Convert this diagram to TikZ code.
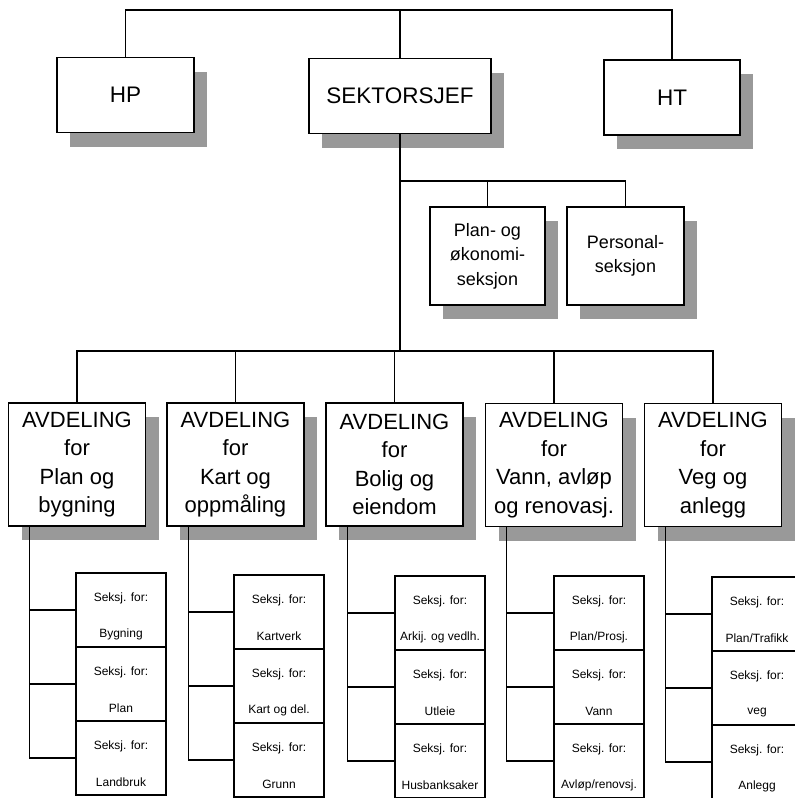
\documentclass[tikz,border=0pt]{standalone}
\usepackage{fontspec}
\setmainfont{Liberation Sans}
\usetikzlibrary{shadows,calc}
\begin{document}
\begin{tikzpicture}[x=1pt,y=-1pt,
  conn/.style={line width=1.3pt},
  sbox/.style={draw, line width=1.6pt, fill=white, inner sep=0pt, align=center,
    drop shadow={shadow xshift=13pt, shadow yshift=-14pt, fill=black!40, opacity=1}},
  topbox/.style={sbox, minimum height=75pt, font=\fontsize{22.5}{26}\selectfont},
  midbox/.style={sbox, minimum width=116pt, minimum height=98pt, font=\fontsize{18}{24.5}\selectfont},
  dbox/.style={sbox, minimum width=137pt, minimum height=123pt, font=\fontsize{22}{28.5}\selectfont},
  secbox/.style={draw, line width=1.3pt, fill=white, minimum width=90pt, minimum height=74pt, inner sep=0pt},
  sectxt/.style={font=\fontsize{12}{14}\selectfont, inner sep=0pt}
]
\useasboundingbox (0,0) rectangle (795,798);
\fill[white] (0,0) rectangle (795,798);

% top level
\node[topbox, minimum width=137pt] (hp) at (125.5,95) {HP};
\node[topbox, minimum width=182pt] (sek) at (400,96) {SEKTORSJEF};
\node[topbox, minimum width=136pt] (ht) at (672,97.5) {HT};
\coordinate (tbar) at (400,10);
\draw[conn] (hp.north) |- (tbar) -| (ht.north);
\draw[conn] (sek.north) -- (sek.north |- tbar);

% staff sections
\node[midbox, minimum width=115pt] (pok) at (487.5,256) {Plan- og\\økonomi-\\seksjon};
\node[midbox, minimum width=117pt] (pers) at (625.5,256) {Personal-\\seksjon};
\coordinate (pbar) at (400,181);
\draw[conn] (sek.south |- pbar) -| (pers.north);
\draw[conn] (pok.north) -- (pok.north |- pbar);

% departments
\node[dbox] (d1) at (77,464.5) {AVDELING\\for\\Plan og\\bygning};
\node[dbox] (d2) at (235.5,464.5) {AVDELING\\for\\Kart og\\oppmåling};
\node[dbox] (d3) at (394.5,464.5) {AVDELING\\for\\Bolig og\\eiendom};
\node[dbox] (d4) at (554,465) {AVDELING\\for\\Vann, avløp\\og renovasj.};
\node[dbox] (d5) at (713,465) {AVDELING\\for\\Veg og\\anlegg};
\coordinate (dbar) at (400,351);
\draw[conn] (sek.south) -- (sek.south |- dbar);
\draw[conn] (d1.north) |- (dbar) -| (d5.north);
\draw[conn] (d2.north) -- (d2.north |- dbar);
\draw[conn] (d3.north) -- (d3.north |- dbar);
\draw[conn] (d4.north) -- (d4.north |- dbar);

% sections
\foreach \i/\cx/\tp/\a/\b/\c in {
  1/121/573/Bygning/Plan/Landbruk,
  2/279/575/Kartverk/Kart og del./Grunn,
  3/440/576/Arkij. og vedlh./Utleie/Husbanksaker,
  4/599/576/{Plan/Prosj.}/Vann/{Avløp/renovsj.},
  5/757/577/{Plan/Trafikk}/veg/Anlegg}{
  \node[secbox] (s\i-1) at (\cx,\tp+37) {};
  \node[secbox] (s\i-2) at (\cx,\tp+111) {};
  \node[secbox] (s\i-3) at (\cx,\tp+185) {};
  \node[sectxt] (t\i-1a) at ([yshift=-26pt]s\i-1.north) {Seksj. for:};
  \node[sectxt] (t\i-1b) at ([yshift=-62pt]s\i-1.north) {\a};
  \node[sectxt] (t\i-2a) at ([yshift=-26pt]s\i-2.north) {Seksj. for:};
  \node[sectxt] (t\i-2b) at ([yshift=-62pt]s\i-2.north) {\b};
  \node[sectxt] (t\i-3a) at ([yshift=-26pt]s\i-3.north) {Seksj. for:};
  \node[sectxt] (t\i-3b) at ([yshift=-62pt]s\i-3.north) {\c};
  \coordinate (v\i) at ([xshift=22pt]d\i.south west);
  \draw[conn] (v\i) |- (s\i-3.west);
  \draw[conn] (v\i |- s\i-1.west) -- (s\i-1.west);
  \draw[conn] (v\i |- s\i-2.west) -- (s\i-2.west);
}
\end{tikzpicture}
\end{document}
